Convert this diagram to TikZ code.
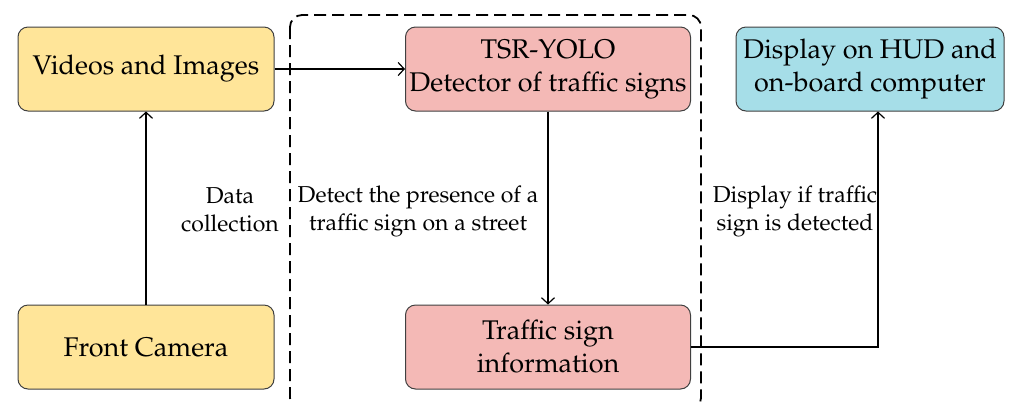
\documentclass[tikz,border=0pt]{standalone}
\usepackage[T1]{fontenc}
\usepackage{mathpazo}
\usetikzlibrary{arrows.meta}
\definecolor{camfill}{HTML}{FFE599}
\definecolor{tsrfill}{HTML}{F4B9B6}
\definecolor{hudfill}{HTML}{A6DEE8}
\definecolor{edge}{HTML}{404040}
\begin{document}
\begin{tikzpicture}[x=0.5pt,y=-0.5pt,
  box/.style={draw=edge,line width=0.5pt,rounded corners=5pt,align=center,
    font=\fontsize{13.5}{16.5}\selectfont,inner sep=0pt,minimum height=42pt},
  yelbox/.style={box,fill=camfill,minimum width=128pt},
  redbox/.style={box,fill=tsrfill,minimum width=142.5pt},
  bluebox/.style={box,fill=hudfill,minimum width=134pt},
  link/.style={-{Straight Barb[length=3pt,width=6.5pt]},line width=0.6pt},
  lbl/.style={align=center,font=\fontsize{11.5}{14}\selectfont,inner sep=0pt},
  groupframe/.style={dashed,dash pattern=on 6pt off 3pt,line width=0.9pt,rounded corners=6pt}]
\useasboundingbox (0,0) rectangle (1024,403);

% detection stage frame
\draw[groupframe] (290,15) rectangle (701,410);

% boxes
\node[yelbox] (vid) at (146,69) {Videos and Images};
\node[yelbox] (cam) at (146,347) {Front Camera};
\node[redbox] (tsr) at (548,69) {TSR-YOLO\\Detector of traffic signs};
\node[redbox] (info) at (548,347) {Traffic sign\\information};
\node[bluebox] (hud) at (870,69) {Display on HUD and\\on-board computer};

% connectors
\draw[link] (cam) -- (vid);
\draw[link] (vid) -- (tsr);
\draw[link] (tsr) -- (info);
\coordinate (turn) at (878,347);
\draw[link] (info.east) -- (turn) -- (turn |- hud.south);

% labels
\node[lbl] (l1) at (230,210) {Data\\collection};
\node[lbl] (l2) at (418,211) {Detect the presence of a\\traffic sign on a street};
\node[lbl] (l3) at (795,211) {Display if traffic\\sign is detected};
\end{tikzpicture}
\end{document}
